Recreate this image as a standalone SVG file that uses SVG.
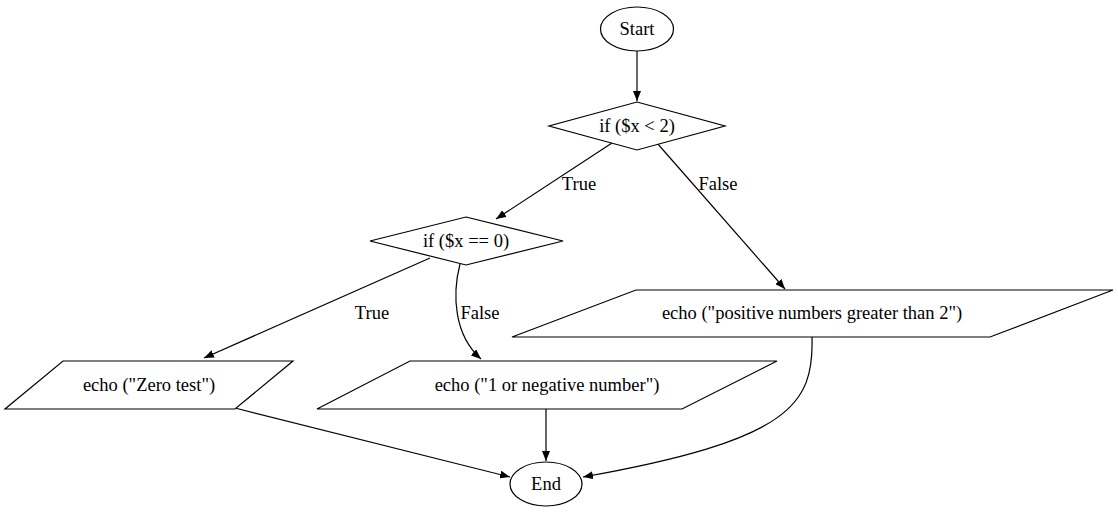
<svg xmlns="http://www.w3.org/2000/svg" width="1118" height="512" viewBox="0 0 1118 512">
<style>
.n{fill:#fff;stroke:#000;stroke-width:1.2}
.t{font-family:"Liberation Serif","Times New Roman",serif;font-size:18.5px;fill:#000;text-anchor:middle}
.e{fill:none;stroke:#000;stroke-width:1.2}
</style>
<defs>
<marker id="ah" markerWidth="10" markerHeight="8" refX="10" refY="4" orient="auto" markerUnits="userSpaceOnUse">
<path d="M0,0 L10,4 L0,8 Z" fill="#000"/>
</marker>
</defs>
<rect width="1118" height="512" fill="#fff"/>
<g id="edges">
<path class="e" d="M637,51 L637,101" marker-end="url(#ah)"/>
<path class="e" d="M612,143 L496,219" marker-end="url(#ah)"/>
<text class="t" x="579" y="190">True</text>
<path class="e" d="M657,143 L785,289" marker-end="url(#ah)"/>
<text class="t" x="718" y="190">False</text>
<path class="e" d="M430,258 L204,358" marker-end="url(#ah)"/>
<text class="t" x="372" y="319">True</text>
<path class="e" d="M460,264 C452,295 454,335 481,359" marker-end="url(#ah)"/>
<text class="t" x="480" y="319">False</text>
<path class="e" d="M235,408 L510,477" marker-end="url(#ah)"/>
<path class="e" d="M546,409 L546,461" marker-end="url(#ah)"/>
<path class="e" d="M812,337 C814,405 790,440 583,477" marker-end="url(#ah)"/>
</g>
<g id="start">
<ellipse class="n" cx="637" cy="29" rx="36.5" ry="22"/>
<text class="t" x="637" y="35">Start</text>
</g>
<g id="cond1">
<polygon class="n" points="637,102 725,126 637,150 549,126"/>
<text class="t" x="637" y="132">if ($x &lt; 2)</text>
</g>
<g id="cond2">
<polygon class="n" points="466,217 563,241 466,265 370,241"/>
<text class="t" x="466" y="247">if ($x == 0)</text>
</g>
<g id="zero">
<polygon class="n" points="63,361 293,361 235,409 5,409"/>
<text class="t" x="149" y="391">echo ("Zero test")</text>
</g>
<g id="neg">
<polygon class="n" points="410,361 777,361 682,409 317,409"/>
<text class="t" x="547" y="391">echo ("1 or negative number")</text>
</g>
<g id="pos">
<polygon class="n" points="636,290 1113,290 990,337 512,337"/>
<text class="t" x="812" y="319">echo ("positive numbers greater than 2")</text>
</g>
<g id="end">
<ellipse class="n" cx="546" cy="484" rx="36" ry="22"/>
<text class="t" x="546" y="490">End</text>
</g>
</svg>
